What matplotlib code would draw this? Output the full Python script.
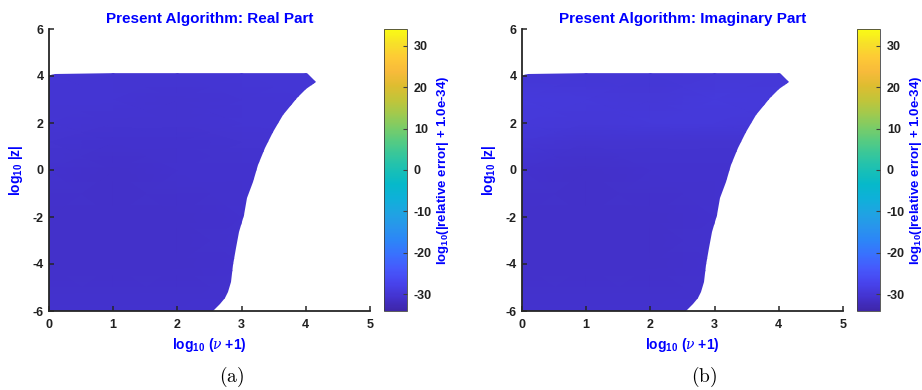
import numpy as np
import matplotlib
matplotlib.use("Agg")
import matplotlib.pyplot as plt
from matplotlib.colors import LinearSegmentedColormap
from matplotlib.patches import Polygon

plt.rcParams['font.family'] = ['Liberation Sans', 'DejaVu Sans']
plt.rcParams['mathtext.fontset'] = 'custom'
plt.rcParams['mathtext.rm'] = 'Liberation Sans:bold'
plt.rcParams['mathtext.bf'] = 'Liberation Sans:bold'
plt.rcParams['mathtext.it'] = 'DejaVu Serif:italic'

# ---------------- data ----------------
titles = ["Present Algorithm: Real Part", "Present Algorithm: Imaginary Part"]
captions = ["(a)", "(b)"]

nu_nodes = [0, 1, 2, 3, 4, 4.2]
z_nodes = [-6, -4, -2, 0, 1.2, 2, 3, 4.1]

err_real = [
    [-30.8, -30.8, -30.8, -30.8, -30.8, -30.8],
    [-31.0, -31.0, -30.9, -30.8, -30.8, -30.8],
    [-31.0, -31.0, -30.9, -30.8, -30.8, -30.8],
    [-30.8, -30.9, -30.8, -30.6, -30.6, -30.6],
    [-30.3, -30.6, -30.6, -30.3, -30.3, -30.3],
    [-30.1, -30.3, -30.4, -30.2, -30.1, -30.1],
    [-30.1, -30.2, -30.3, -30.1, -30.0, -30.0],
    [-30.0, -30.1, -30.1, -30.0, -29.8, -29.8],
]
err_imag = [
    [-30.8, -30.8, -30.8, -30.8, -30.8, -30.8],
    [-31.0, -31.0, -30.9, -30.8, -30.8, -30.8],
    [-31.0, -31.0, -30.9, -30.8, -30.8, -30.8],
    [-30.8, -30.9, -30.8, -30.6, -30.6, -30.6],
    [-30.0, -30.3, -30.4, -30.4, -30.3, -30.3],
    [-29.3, -29.6, -29.4, -29.3, -29.6, -29.6],
    [-29.1, -29.3, -29.6, -29.1, -29.4, -29.4],
    [-29.8, -29.8, -30.0, -29.6, -29.6, -29.6],
]

# domain boundary of the computed region (log10(nu+1), log10|z|)
boundary_nu = [0.00, 0.00, 2.56, 2.66, 2.74, 2.79, 2.83, 2.87, 2.91, 2.96, 3.03,
               3.09, 3.17, 3.26, 3.36, 3.49, 3.65, 3.86, 4.00, 4.16, 4.01,
               3.00, 2.00, 1.00, 0.10, 0.03]
boundary_z = [4.00, -6.00, -6.00, -5.72, -5.46, -5.18, -4.75, -4.04, -3.33, -2.62, -1.91,
              -1.21, -0.50, 0.21, 0.92, 1.63, 2.34, 3.05, 3.45, 3.76, 4.15,
              4.13, 4.12, 4.11, 4.09, 4.06]

x_ticks = [0, 1, 2, 3, 4, 5]
y_ticks = [-6, -4, -2, 0, 2, 4, 6]
cbar_ticks = [-30, -20, -10, 0, 10, 20, 30]
clim = (-34, 34)

# ---------------- colormap (parula-like) ----------------
parula_pts = [
    (0.00, (0.2422, 0.1504, 0.6603)),
    (0.05, (0.2650, 0.2010, 0.8150)),
    (0.10, (0.2810, 0.2680, 0.9320)),
    (0.15, (0.2740, 0.3500, 0.9880)),
    (0.20, (0.2230, 0.4420, 0.9960)),
    (0.25, (0.1720, 0.5240, 0.9680)),
    (0.30, (0.1580, 0.5870, 0.9230)),
    (0.35, (0.1180, 0.6460, 0.8840)),
    (0.40, (0.0550, 0.6920, 0.8500)),
    (0.45, (0.0250, 0.7250, 0.7900)),
    (0.50, (0.1000, 0.7500, 0.7100)),
    (0.55, (0.2000, 0.7750, 0.6200)),
    (0.60, (0.3300, 0.7950, 0.5150)),
    (0.65, (0.4800, 0.8000, 0.4050)),
    (0.70, (0.6300, 0.7900, 0.3050)),
    (0.75, (0.7600, 0.7700, 0.2250)),
    (0.80, (0.8700, 0.7400, 0.1900)),
    (0.85, (0.9700, 0.7300, 0.2300)),
    (0.90, (0.9950, 0.7900, 0.2100)),
    (0.95, (0.9700, 0.8800, 0.1600)),
    (1.00, (0.9769, 0.9839, 0.0805)),
]
parula = LinearSegmentedColormap.from_list("parula", parula_pts, N=256)

# ---------------- figure ----------------
W, H = 922, 390
fig = plt.figure(figsize=(W / 100, H / 100), dpi=100)

def px_rect(l, r, t, b):
    return [l / W, 1 - b / H, (r - l) / W, (b - t) / H]

ax_px = [(49, 370), (522, 843)]
cb_px = [(384, 407), (857, 880)]
top_px, bot_px = 29, 311
blue = (0, 0, 1)
datasets = [err_real, err_imag]

for i in range(2):
    ax = fig.add_axes(px_rect(ax_px[i][0], ax_px[i][1], top_px, bot_px))
    cax = fig.add_axes(px_rect(cb_px[i][0], cb_px[i][1], top_px, bot_px))

    X, Y = np.meshgrid(nu_nodes, z_nodes)
    mesh = ax.pcolormesh(X, Y, np.array(datasets[i]), cmap=parula,
                         vmin=clim[0], vmax=clim[1], shading='gouraud',
                         rasterized=True)
    poly = Polygon(np.column_stack([boundary_nu, boundary_z]), closed=True,
                   transform=ax.transData, facecolor='none', edgecolor='none')
    ax.add_patch(poly)
    mesh.set_clip_path(poly)

    ax.set_xlim(0, 5)
    ax.set_ylim(-6, 6)
    ax.set_xticks(x_ticks)
    ax.set_yticks(y_ticks)
    ax.set_xticklabels([str(v) for v in x_ticks])
    ax.set_yticklabels([str(v) for v in y_ticks])
    for s in ['top', 'right']:
        ax.spines[s].set_visible(False)
    for s in ['left', 'bottom']:
        ax.spines[s].set_linewidth(1.3)
        ax.spines[s].set_color('#262626')
        ax.spines[s].set_zorder(5)
    ax.tick_params(direction='in', length=3.5, width=1.1, color='#262626',
                   labelsize=9, labelcolor='#202020')
    ax.tick_params(axis='x', pad=6)
    ax.tick_params(axis='y', pad=4)
    for lab in ax.get_xticklabels() + ax.get_yticklabels():
        lab.set_fontweight('bold')

    ax.set_title(titles[i], color=blue, fontsize=11, fontweight='bold', pad=4)
    ax.set_xlabel(r'log$_{\mathbf{10}}$ ($\nu$ +1)', color=blue, fontsize=10,
                  fontweight='bold', labelpad=3)
    ax.set_ylabel(r'log$_{\mathbf{10}}$ |z|', color=blue, fontsize=10,
                  fontweight='bold', labelpad=5)

    cb = fig.colorbar(mesh, cax=cax)
    cb.set_ticks(cbar_ticks)
    cb.set_ticklabels([str(v) for v in cbar_ticks])
    cb.outline.set_linewidth(0.6)
    cb.outline.set_edgecolor('#404040')
    cax.tick_params(direction='in', length=3, width=0.8, color='#404040',
                    labelsize=9, labelcolor='#202020', pad=5)
    for lab in cax.get_yticklabels():
        lab.set_fontweight('bold')
    cb.set_label(r'log$_{\mathbf{10}}$(|relative error| + 1.0e-34)', color=blue,
                 fontsize=9.5, fontweight='bold', labelpad=2)

    fig.text([232, 704][i] / W, 1 - 377 / H, r'$\mathrm{' + captions[i] + '}$',
             math_fontfamily='cm', fontsize=14, ha='center', va='center')

fig.savefig("out.png", dpi=100)
